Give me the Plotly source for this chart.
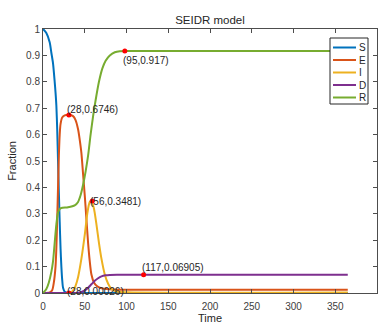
import plotly.graph_objects as go

# ---- data ----
t_S = [0, 4, 8, 10, 12, 14, 15, 16, 17, 18, 19, 20, 21, 22, 23, 24, 26, 30, 40, 365]
S = [1.0, 0.985, 0.95, 0.91, 0.87, 0.80, 0.76, 0.71, 0.62, 0.50, 0.38, 0.27, 0.17, 0.10, 0.05, 0.02, 0.005, 0.0005, 0.0, 0.0]

t_E = [0, 8, 11, 13, 15, 16, 17, 18, 19, 20, 21, 23, 26, 31, 36, 39, 42, 44, 46, 48, 50, 52, 54, 56, 58, 61, 65, 70, 80, 100, 365]
E = [0.0, 0.002, 0.01, 0.04, 0.10, 0.17, 0.28, 0.40, 0.52, 0.60, 0.64, 0.665, 0.673, 0.675, 0.67, 0.655, 0.62, 0.58, 0.53, 0.45, 0.37, 0.28, 0.19, 0.12, 0.07, 0.04, 0.025, 0.018, 0.014, 0.012, 0.012]

t_I = [0, 30, 34, 38, 42, 46, 50, 53, 56, 58, 61, 64, 67, 70, 74, 78, 82, 88, 100, 365]
I = [0.0, 0.0, 0.003, 0.02, 0.06, 0.13, 0.22, 0.30, 0.345, 0.348, 0.32, 0.26, 0.19, 0.13, 0.07, 0.035, 0.015, 0.006, 0.003, 0.002]

t_D = [0, 38, 42, 46, 50, 54, 58, 62, 66, 70, 75, 80, 90, 365]
D = [0.0, 0.0, 0.001, 0.004, 0.01, 0.02, 0.033, 0.046, 0.056, 0.063, 0.067, 0.0685, 0.069, 0.069]

t_R = [0, 4, 7, 10, 12, 14, 16, 18, 20, 22, 30, 38, 42, 45, 48, 51, 54, 57, 60, 63, 67, 71, 75, 80, 86, 92, 100, 365]
R = [0.0, 0.015, 0.04, 0.08, 0.12, 0.19, 0.26, 0.305, 0.318, 0.322, 0.325, 0.332, 0.345, 0.37, 0.41, 0.46, 0.52, 0.60, 0.67, 0.73, 0.80, 0.85, 0.88, 0.90, 0.912, 0.916, 0.917, 0.917]

names = ["S", "E", "I", "D", "R"]
colors = ["#0072BD", "#D95319", "#EDB120", "#7E2F8E", "#77AC30"]

# data tips
tip_x = [31, 31, 59, 98, 120.5]
tip_y = [0.6746, 0.00026, 0.3481, 0.917, 0.06905]
tip_text = ["(28,0.6746)", "(28,0.00026)", "(56,0.3481)", "(95,0.917)", "(117,0.06905)"]
tip_yshift = [5, 1, 0, -10, 7]

x_ticks = [0, 50, 100, 150, 200, 250, 300, 350, 400]
y_ticks = [0, 0.1, 0.2, 0.3, 0.4, 0.5, 0.6, 0.7, 0.8, 0.9, 1]
y_tick_text = ["0", "0.1", "0.2", "0.3", "0.4", "0.5", "0.6", "0.7", "0.8", "0.9", "1"]

FONT = "Liberation Sans, Arial, sans-serif"
W, H = 382, 324
ML, MR, MT, MB = 43, 5, 29, 31
PW, PH = W - ML - MR, H - MT - MB


def px_x(p):  # pixel -> paper x
    return (p - ML) / PW


def px_y(p):  # pixel -> paper y
    return (H - MB - p) / PH


fig = go.Figure()
series = [(t_S, S), (t_E, E), (t_I, I), (t_D, D), (t_R, R)]
for (tx, ty), n, c in zip(series, names, colors):
    fig.add_trace(go.Scatter(x=tx, y=ty, name=n, mode="lines", showlegend=False,
                             line=dict(color=c, width=2, shape="spline", smoothing=0.7)))

fig.add_trace(go.Scatter(x=tip_x, y=tip_y, mode="markers", showlegend=False,
                         marker=dict(color="#FF0000", size=5)))

for x, y, txt, ys in zip(tip_x, tip_y, tip_text, tip_yshift):
    fig.add_annotation(x=x, y=y, xref="x", yref="y", text=txt, showarrow=False,
                       xanchor="left", yanchor="middle", xshift=-4, yshift=ys,
                       font=dict(family=FONT, size=10, color="#262626"))

# compact legend box (MATLAB style)
lx0, lx1, ly0, ly1 = 330, 368, 38, 104
fig.add_shape(type="rect", xref="paper", yref="paper",
              x0=px_x(lx0), x1=px_x(lx1), y0=px_y(ly1), y1=px_y(ly0),
              line=dict(color="#262626", width=1), fillcolor="white", layer="above")
for i, (n, c) in enumerate(zip(names, colors)):
    yc = 47.5 + i * 12.5
    fig.add_shape(type="line", xref="paper", yref="paper",
                  x0=px_x(333), x1=px_x(356), y0=px_y(yc), y1=px_y(yc),
                  line=dict(color=c, width=2), layer="above")
    fig.add_annotation(x=px_x(357), y=px_y(yc), xref="paper", yref="paper", text=n,
                       showarrow=False, xanchor="left", yanchor="middle",
                       font=dict(family=FONT, size=10, color="#262626"))

axis_common = dict(showline=True, linecolor="#4d4d4d", linewidth=1, mirror="ticks",
                   ticks="inside", ticklen=4, tickcolor="#4d4d4d", showgrid=False,
                   zeroline=False, automargin=False,
                   tickfont=dict(family=FONT, size=10, color="#404040"))

fig.update_xaxes(range=[0, 400], tickvals=x_ticks, ticklabelstandoff=4,
                 title=dict(text="Time", font=dict(family=FONT, size=11, color="#262626"), standoff=2),
                 **axis_common)
fig.update_yaxes(range=[0, 1], tickvals=y_ticks, ticktext=y_tick_text,
                 title=dict(text="Fraction", font=dict(family=FONT, size=11, color="#262626"), standoff=7),
                 **axis_common)

fig.update_layout(
    width=W, height=H,
    margin=dict(l=ML, r=MR, t=MT, b=MB),
    paper_bgcolor="white", plot_bgcolor="white",
    title=dict(text="SEIDR model", xref="paper", x=0.5, xanchor="center", y=1 - 20 / H, yanchor="middle",
               font=dict(family=FONT, size=11.5, color="#262626")),
    showlegend=False,
)

fig.write_html("out.html")
